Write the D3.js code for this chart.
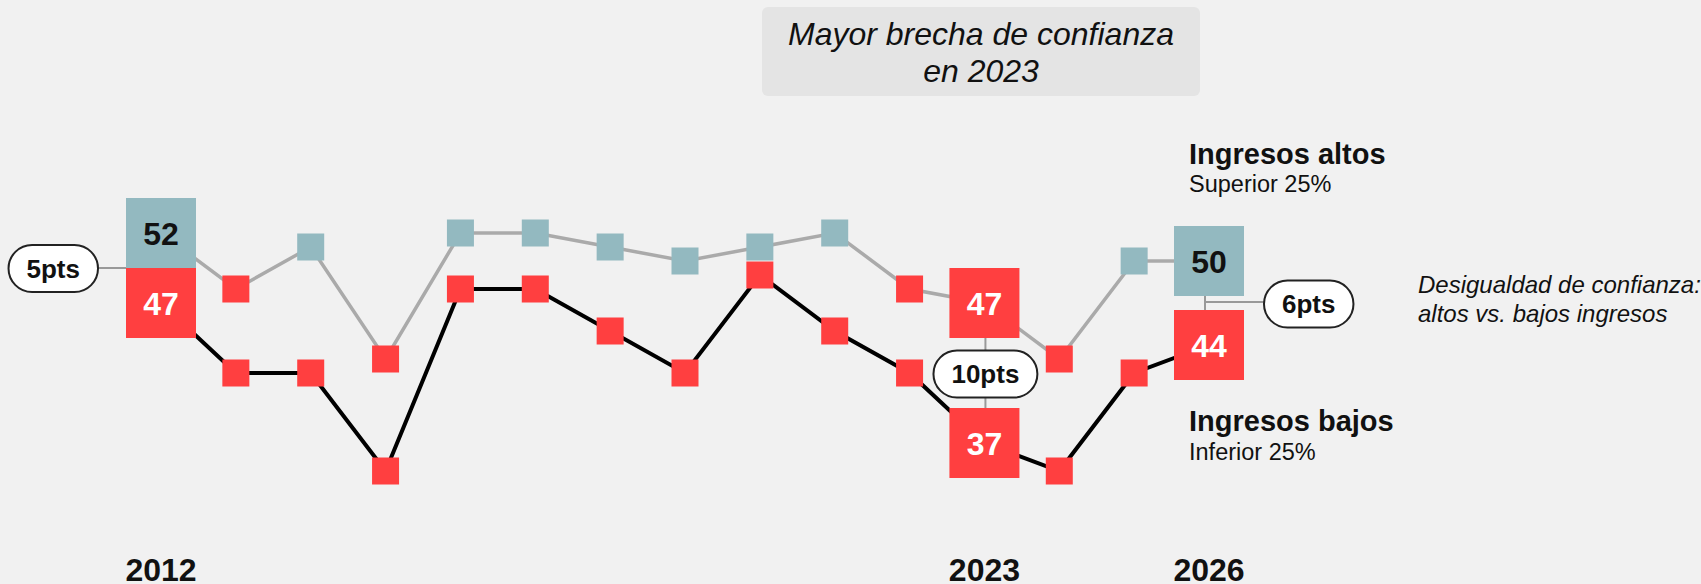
<!DOCTYPE html>
<html>
<head>
<meta charset="utf-8">
<script src="https://cdn.jsdelivr.net/npm/d3@7"></script>
<style>
  body { margin: 0; background: #f1f1f1; }
  svg { display: block; font-family: "Liberation Sans", Arial, sans-serif; }
</style>
</head>
<body>
<div id="container"></div>
<script>
// trust index by year
var years = [2012, 2013, 2014, 2015, 2016, 2017, 2018, 2019, 2020, 2021, 2022, 2023, 2024, 2025, 2026];
var highIncome = [52, 48, 51, 43, 52, 52, 51, 50, 51, 52, 48, 47, 43, 50, 50];
var lowIncome  = [47, 42, 42, 35, 48, 48, 45, 42, 49, 45, 42, 37, 35, 42, 44];
var highlightYears = [2012, 2023, 2026];
var titleLines = ["Mayor brecha de confianza", "en 2023"];
var noteLines = ["Desigualdad de confianza:", "altos vs. bajos ingresos"];
var seriesNames = ["Ingresos altos", "Ingresos bajos"];
var seriesSubs = ["Superior 25%", "Inferior 25%"];

var width = 1701, height = 584;
var RED = "#ff3f40", TEAL = "#93b9c0";

var svg = d3.select("#container").append("svg")
  .attr("width", width)
  .attr("height", height);

svg.append("rect").attr("width", width).attr("height", height).attr("fill", "#f1f1f1");

var x = d3.scaleLinear().domain([2012, 2026]).range([161, 1209]);
var y = d3.scaleLinear().domain([35, 52]).range([471, 233]);

function colorOf(v) { return v < 50 ? RED : TEAL; }

var high = years.map(function(yr, i) { return {year: yr, v: highIncome[i]}; });
var low = years.map(function(yr, i) { return {year: yr, v: lowIncome[i]}; });

var line = d3.line()
  .x(function(d) { return x(d.year); })
  .y(function(d) { return y(d.v); });

svg.append("path").datum(high)
  .attr("d", line).attr("fill", "none")
  .attr("stroke", "#aaaaaa").attr("stroke-width", 3.5);
svg.append("path").datum(low)
  .attr("d", line).attr("fill", "none")
  .attr("stroke", "#000").attr("stroke-width", 4);

var gapLayer = svg.append("g");
var markLayer = svg.append("g");

// markers
var small = 27, big = 70;
var allPts = high.concat(low);
markLayer.selectAll("rect.small")
  .data(allPts.filter(function(d) { return highlightYears.indexOf(d.year) < 0; }))
  .enter().append("rect")
  .attr("class", "small")
  .attr("x", function(d) { return x(d.year) - small / 2; })
  .attr("y", function(d) { return y(d.v) - small / 2; })
  .attr("width", small).attr("height", small)
  .attr("fill", function(d) { return colorOf(d.v); });

var bigPts = allPts.filter(function(d) { return highlightYears.indexOf(d.year) >= 0; });
markLayer.selectAll("rect.big")
  .data(bigPts)
  .enter().append("rect")
  .attr("class", "big")
  .attr("x", function(d) { return x(d.year) - big / 2; })
  .attr("y", function(d) { return y(d.v) - big / 2; })
  .attr("width", big).attr("height", big)
  .attr("fill", function(d) { return colorOf(d.v); });

markLayer.selectAll("text.big")
  .data(bigPts)
  .enter().append("text")
  .attr("x", function(d) { return x(d.year); })
  .attr("y", function(d) { return y(d.v) + 11.5; })
  .attr("text-anchor", "middle")
  .attr("font-size", 32).attr("font-weight", "bold")
  .attr("fill", function(d) { return d.v < 50 ? "#fff" : "#111"; })
  .text(function(d) { return d.v; });

var pillFont = 26, pillPad = 36, pillH = 47;
function pillWidth(label) {
  var tmp = svg.append("text").attr("font-size", pillFont).attr("font-weight", "bold").text(label);
  var w = tmp.node().getComputedTextLength() + pillPad;
  tmp.remove();
  return w;
}
function pill(cx, cy, label) {
  var g = svg.append("g");
  var w = pillWidth(label);
  g.append("rect")
    .attr("x", cx - w / 2).attr("y", cy - pillH / 2)
    .attr("width", w).attr("height", pillH)
    .attr("rx", pillH / 2)
    .attr("fill", "#fff").attr("stroke", "#222").attr("stroke-width", 2);
  g.append("text")
    .attr("x", cx).attr("y", cy + 9)
    .attr("text-anchor", "middle")
    .attr("font-size", pillFont).attr("font-weight", "bold").attr("fill", "#111")
    .text(label);
}

highlightYears.forEach(function(yr, k) {
  var i = years.indexOf(yr);
  var hi = highIncome[i], lo = lowIncome[i];
  var mid = y((hi + lo) / 2);
  var label = (hi - lo) + "pts";
  var cx = x(yr);
  var w = pillWidth(label);
  if (k === 0) {
    gapLayer.append("line").attr("x1", cx - 80).attr("x2", cx - big / 2)
      .attr("y1", mid).attr("y2", mid).attr("stroke", "#999").attr("stroke-width", 2);
    pill(cx - 63 - w / 2, mid + 0.5, label);
  } else if (k === 1) {
    gapLayer.append("line").attr("x1", cx + 1).attr("x2", cx + 1)
      .attr("y1", y(hi)).attr("y2", y(lo)).attr("stroke", "#999").attr("stroke-width", 2);
    pill(cx + 1, mid + 1, label);
  } else {
    gapLayer.append("line").attr("x1", cx - 4).attr("x2", cx - 4)
      .attr("y1", y(hi)).attr("y2", y(lo)).attr("stroke", "#999").attr("stroke-width", 2);
    gapLayer.append("line").attr("x1", cx - 4).attr("x2", cx + 60)
      .attr("y1", mid - 1).attr("y2", mid - 1).attr("stroke", "#999").attr("stroke-width", 2);
    pill(cx + 55 + w / 2, mid + 1, label);
  }
});

// year labels
svg.selectAll("text.year")
  .data(highlightYears)
  .enter().append("text")
  .attr("class", "year")
  .attr("x", function(d) { return x(d); })
  .attr("y", 581)
  .attr("text-anchor", "middle")
  .attr("font-size", 32).attr("font-weight", "bold").attr("fill", "#111")
  .text(function(d) { return d; });

// title box
svg.append("rect")
  .attr("x", 762).attr("y", 7).attr("width", 438).attr("height", 89)
  .attr("rx", 6).attr("fill", "#e4e4e4");
svg.selectAll("text.title")
  .data(titleLines)
  .enter().append("text")
  .attr("x", 981)
  .attr("y", function(d, i) { return 45 + i * 37; })
  .attr("text-anchor", "middle")
  .attr("font-size", 32).attr("font-style", "italic").attr("fill", "#111")
  .text(function(d) { return d; });

// series labels
var lx = x(2026) - 20;
[[164, 192], [431, 460]].forEach(function(pos, i) {
  svg.append("text").attr("x", lx).attr("y", pos[0])
    .attr("font-size", 29).attr("font-weight", "bold").attr("fill", "#111")
    .text(seriesNames[i]);
  svg.append("text").attr("x", lx).attr("y", pos[1])
    .attr("font-size", 23.5).attr("fill", "#111")
    .text(seriesSubs[i]);
});

// note
svg.selectAll("text.note")
  .data(noteLines)
  .enter().append("text")
  .attr("x", 1418)
  .attr("y", function(d, i) { return 293 + i * 29; })
  .attr("font-size", 24).attr("font-style", "italic").attr("fill", "#111")
  .text(function(d) { return d; });
</script>
</body>
</html>
